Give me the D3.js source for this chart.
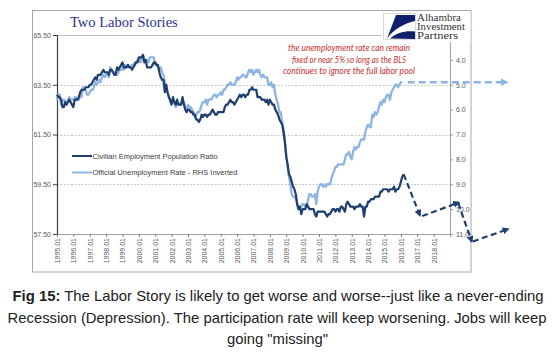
<!DOCTYPE html>
<html><head><meta charset="utf-8">
<script src="https://cdn.jsdelivr.net/npm/d3@7"></script>
<style>
html,body{margin:0;padding:0;background:#fff;}
svg{display:block;}
</style></head>
<body><svg id="c" width="556" height="356"></svg>
<script>
// ---- data ----
const years = [1995,1996,1997,1998,1999,2000,2001,2002,2003,2004,2005,2006,2007,2008,2009,2010,2011,2012,2013,2014,2015,2016];
const empRatio = [
 [63.1,63.0,63.0,62.9,62.6,62.6,62.8,62.7,62.8,62.9,62.8,62.7],
 [62.6,62.9,62.9,62.9,63.0,63.2,63.3,63.3,63.3,63.4,63.4,63.4],
 [63.5,63.5,63.6,63.7,63.8,63.7,63.9,63.9,63.9,64.0,64.1,64.0],
 [64.0,64.0,63.9,64.1,64.1,64.0,63.9,63.9,64.2,64.1,64.2,64.3],
 [64.4,64.2,64.2,64.2,64.3,64.2,64.2,64.1,64.2,64.3,64.4,64.4],
 [64.6,64.6,64.6,64.7,64.4,64.5,64.2,64.2,64.2,64.2,64.3,64.4],
 [64.4,64.3,64.3,64.0,63.8,63.7,63.7,63.2,63.5,63.2,63.0,62.9],
 [62.7,63.0,62.8,62.7,62.9,62.7,62.7,62.7,63.0,62.7,62.5,62.4],
 [62.5,62.5,62.4,62.4,62.3,62.3,62.1,62.1,62.0,62.1,62.3,62.2],
 [62.3,62.3,62.2,62.3,62.3,62.4,62.5,62.4,62.3,62.3,62.4,62.4],
 [62.4,62.4,62.4,62.6,62.7,62.7,62.8,62.9,62.8,62.8,62.7,62.8],
 [62.9,63.0,63.1,63.0,63.1,63.1,63.0,63.1,63.1,63.3,63.3,63.4],
 [63.3,63.3,63.3,63.0,63.0,63.0,62.9,62.9,62.9,62.8,62.9,62.7],
 [62.9,62.8,62.7,62.7,62.5,62.4,62.3,62.1,62.0,61.9,61.6,61.2],
 [60.6,60.3,59.9,59.8,59.6,59.4,59.3,59.1,58.7,58.5,58.6,58.3],
 [58.5,58.5,58.5,58.7,58.6,58.5,58.5,58.5,58.5,58.3,58.2,58.4],
 [58.4,58.4,58.4,58.4,58.4,58.3,58.2,58.3,58.3,58.4,58.5,58.5],
 [58.4,58.5,58.5,58.4,58.6,58.6,58.5,58.4,58.7,58.8,58.7,58.6],
 [58.6,58.6,58.5,58.6,58.6,58.6,58.7,58.6,58.6,58.2,58.6,58.6],
 [58.8,58.8,58.9,58.9,58.9,59.0,59.0,59.0,59.0,59.2,59.2,59.3],
 [59.3,59.3,59.3,59.2,59.3,59.3,59.3,59.4,59.2,59.3,59.3,59.4],
 [59.6,59.8,59.9]
];
const unempRate = [
 [5.6,5.4,5.4,5.8,5.6,5.6,5.7,5.7,5.6,5.5,5.6,5.6],
 [5.6,5.5,5.5,5.6,5.6,5.3,5.5,5.1,5.2,5.2,5.4,5.4],
 [5.3,5.2,5.2,5.1,4.9,5.0,4.9,4.8,4.9,4.7,4.6,4.7],
 [4.6,4.6,4.7,4.3,4.4,4.5,4.5,4.5,4.6,4.5,4.4,4.4],
 [4.3,4.4,4.2,4.3,4.2,4.3,4.3,4.2,4.2,4.1,4.1,4.0],
 [4.0,4.1,4.0,3.8,4.0,4.0,4.0,4.1,3.9,3.9,3.9,3.9],
 [4.2,4.2,4.3,4.4,4.3,4.5,4.6,4.9,5.0,5.3,5.5,5.7],
 [5.7,5.7,5.7,5.9,5.8,5.8,5.8,5.7,5.7,5.7,5.9,6.0],
 [5.8,5.9,5.9,6.0,6.1,6.3,6.2,6.1,6.1,6.0,5.8,5.7],
 [5.7,5.6,5.8,5.6,5.6,5.6,5.5,5.4,5.4,5.5,5.4,5.4],
 [5.3,5.4,5.2,5.2,5.1,5.0,5.0,4.9,5.0,5.0,5.0,4.9],
 [4.7,4.8,4.7,4.7,4.6,4.6,4.7,4.7,4.5,4.4,4.5,4.4],
 [4.6,4.5,4.4,4.5,4.4,4.6,4.7,4.6,4.7,4.7,4.7,5.0],
 [5.0,4.9,5.1,5.0,5.4,5.6,5.8,6.1,6.1,6.5,6.8,7.3],
 [7.8,8.3,8.7,9.0,9.4,9.5,9.5,9.6,9.8,10.0,9.9,9.9],
 [9.8,9.8,9.9,9.9,9.6,9.4,9.4,9.5,9.5,9.4,9.8,9.3],
 [9.1,9.0,9.0,9.1,9.0,9.1,9.0,9.0,9.0,8.8,8.6,8.5],
 [8.3,8.3,8.2,8.2,8.2,8.2,8.2,8.0,7.8,7.8,7.7,7.9],
 [8.0,7.7,7.5,7.6,7.5,7.5,7.3,7.2,7.2,7.2,6.9,6.7],
 [6.6,6.7,6.7,6.2,6.3,6.1,6.2,6.1,5.9,5.7,5.8,5.6],
 [5.7,5.5,5.4,5.4,5.6,5.3,5.2,5.1,5.0,5.0,5.1,5.0],
 [4.9,4.9]
];
// hand-drawn projection arrows (year, value)
const empProjection = [
 [[2016.17,59.9],[2017.17,58.24]],
 [[2017.3,58.22],[2019.55,58.77]],
 [[2019.5,58.75],[2020.33,57.19]],
 [[2020.4,57.2],[2022.56,57.7]]
];
const unempProjection = [[[2016.42,4.9],[2022.48,4.9]]];
const leftTicks = [57.5,59.5,61.5,63.5,65.5];
const rightTicks = [4,5,6,7,8,9,10,11];
const xTickYears = d3.range(1995,2019);
const xTickLabels = xTickYears.map(y => y + ".01");
const seriesNames = ["Civilian Employment Population Ratio","Official Unemployment Rate - RHS Inverted"];
const noteLines = ["the unemployment rate can remain","fixed or near 5% so long as the BLS","continues to ignore the full labor pool"];
const logoLines = ["Alhambra","Investment","Partners"];
const captionBold = "Fig 15:";
const captionLines = [" The Labor Story is likely to get worse and worse--just like a never-ending",
 "Recession (Depression). The participation rate will keep worsening. Jobs will keep",
 "going \"missing\""];

// ---- chart ----
const svg = d3.select("#c");
const L=57,R=450,T=35,B=234;
const x = d3.scaleLinear().domain([1995,2019]).range([L,R]);
const yL = d3.scaleLinear().domain([57.5,65.5]).range([B,T]);
const yR = d3.scaleLinear().domain([3,11]).range([T,B]);
const DARK="#1f3f6e", LIGHT="#8db4e2", GRID="#c8c8c8", LBL="#595959";

const flat = (arr) => { const out=[]; arr.forEach((row,i)=>row.forEach((v,m)=>out.push([years[i]+m/12,v]))); return out; };
const empData = flat(empRatio), unData = flat(unempRate);

// frame
svg.append("rect").attr("x",32.5).attr("y",10.5).attr("width",438.5).attr("height",261.5)
  .attr("fill","#fff").attr("stroke","#a6a6a6").attr("stroke-width",1);

// gridlines
svg.append("g").selectAll("line").data(leftTicks.filter(d=>d>57.5 && d<65.5)).join("line")
  .attr("x1",L).attr("x2",R).attr("y1",d=>Math.round(yL(d))+0.5).attr("y2",d=>Math.round(yL(d))+0.5)
  .attr("stroke",GRID).attr("stroke-dasharray","2,1.5");
svg.append("line").attr("x1",L).attr("x2",R).attr("y1",yL(65.5)+0.5).attr("y2",yL(65.5)+0.5)
  .attr("stroke","#bfbfbf").attr("stroke-width",1.2);

// axes
const axL = d3.axisLeft(yL).tickValues(leftTicks).tickFormat(d3.format(".2f")).tickSize(4).tickPadding(2);
const gL = svg.append("g").attr("transform",`translate(${L},0)`).call(axL);
gL.select(".domain").attr("stroke","#404040").attr("stroke-width",1.2);
gL.selectAll(".tick line").attr("stroke","#404040");
gL.selectAll("text").attr("fill",LBL).style("font","7px 'Liberation Sans',Arial,sans-serif");

const axR = d3.axisRight(yR).tickValues(rightTicks).tickFormat(d3.format(".1f")).tickSize(3).tickPadding(3);
const gR = svg.append("g").attr("transform",`translate(${R},0)`).call(axR);
gR.select(".domain").attr("stroke","#a0a0a0");
gR.selectAll(".tick line").attr("stroke","#a0a0a0");
gR.selectAll("text").attr("fill",LBL).style("font","7px 'Liberation Sans',Arial,sans-serif");

const axB = d3.axisBottom(x).tickValues(xTickYears).tickFormat((d,i)=>xTickLabels[i]).tickSize(3).tickPadding(2);
const gB = svg.append("g").attr("transform",`translate(0,${B})`).call(axB);
gB.select(".domain").attr("stroke","#a0a0a0");
gB.selectAll(".tick line").attr("stroke","#808080");
gB.selectAll("text").attr("fill",LBL).style("font","7px 'Liberation Sans',Arial,sans-serif")
  .attr("transform","rotate(-90)").attr("text-anchor","end").attr("x",-4).attr("y",0).attr("dy","0.35em");

// series lines
const lineL = d3.line().x(d=>x(d[0])).y(d=>yL(d[1]));
const lineR = d3.line().x(d=>x(d[0])).y(d=>yR(d[1]));
svg.append("path").datum(unData).attr("d",lineR).attr("fill","none").attr("stroke",LIGHT).attr("stroke-width",2.3).attr("stroke-linejoin","round");
svg.append("path").datum(empData).attr("d",lineL).attr("fill","none").attr("stroke",DARK).attr("stroke-width",2.2).attr("stroke-linejoin","round");

// arrow markers
const defs = svg.append("defs");
[["arrD",DARK],["arrL",LIGHT]].forEach(([id,c])=>{
  defs.append("marker").attr("id",id).attr("viewBox","0 0 10 10").attr("refX",8).attr("refY",5)
    .attr("markerWidth",3.2).attr("markerHeight",3.2).attr("orient","auto").attr("markerUnits","strokeWidth")
    .append("path").attr("d","M0,0 L10,5 L0,10 z").attr("fill",c);
});
svg.append("g").selectAll("path").data(empProjection).join("path").attr("d",lineL)
  .attr("fill","none").attr("stroke",DARK).attr("stroke-width",2.2).attr("stroke-dasharray","6,3.5")
  .attr("marker-end","url(#arrD)");
svg.append("g").selectAll("path").data(unempProjection).join("path").attr("d",lineR)
  .attr("fill","none").attr("stroke",LIGHT).attr("stroke-width",2.4).attr("stroke-dasharray","7,4")
  .attr("marker-end","url(#arrL)");

// legend
const leg = svg.append("g");
[[DARK,156],[LIGHT,172.5]].forEach(([c,yy],i)=>{
  leg.append("line").attr("x1",72).attr("x2",92).attr("y1",yy).attr("y2",yy).attr("stroke",c).attr("stroke-width",2);
  leg.append("text").attr("x",92.5).attr("y",yy+2.7).text(seriesNames[i])
    .attr("fill","#404040").style("font","7.5px 'Liberation Sans',Arial,sans-serif");
});

// title
svg.append("text").attr("x",70).attr("y",27).text("Two Labor Stories")
  .attr("fill","#2e3192").style("font","14.5px 'Liberation Serif','Times New Roman',serif");

// annotation
const noteWidths=[122,114,132];
svg.append("g").selectAll("text").data(noteLines).join("text")
  .attr("x",349).attr("y",(d,i)=>51+i*11.7).attr("text-anchor","middle")
  .attr("textLength",(d,i)=>noteWidths[i]).attr("lengthAdjust","spacingAndGlyphs")
  .attr("fill","#c8302e").style("font","italic 9px Lato,'Open Sans',sans-serif").text(d=>d);

// logo
const logo = svg.append("g");
logo.append("rect").attr("x",381).attr("y",11).attr("width",89.5).attr("height",31).attr("fill","#fff");
logo.append("rect").attr("x",383.5).attr("y",13.5).attr("width",32).attr("height",26).attr("fill","#fff").attr("stroke","#d8d8d8");
logo.append("path").attr("d","M396,15 L415,15 L415,21 C405,23 394,29 387,38.5 Z").attr("fill","#0f1f6e");
logo.append("path").attr("d","M390,38.5 C397,32 406,30.5 415,31.5 L415,39 Z").attr("fill","#0f1f6e");
const logoW=[44,48,41];
logoLines.forEach((t,i)=>{
  logo.append("text").attr("x",417).attr("y",20.5+i*9.4).text(t)
    .attr("textLength",logoW[i]).attr("lengthAdjust","spacingAndGlyphs")
    .attr("fill","#333").style("font","9.3px 'Liberation Serif','Times New Roman',serif");
});

// caption
const capFont = "14.5px 'Liberation Sans',Arial,sans-serif";
const c1 = svg.append("text").attr("x",278).attr("y",301).attr("text-anchor","middle").style("font",capFont).attr("fill","#222")
  .attr("textLength",531).attr("lengthAdjust","spacingAndGlyphs");
c1.append("tspan").attr("font-weight","bold").text(captionBold);
c1.append("tspan").text(captionLines[0]);
svg.append("text").attr("x",277).attr("y",323).attr("text-anchor","middle").style("font",capFont).attr("fill","#222")
  .attr("textLength",539).attr("lengthAdjust","spacingAndGlyphs").text(captionLines[1]);
svg.append("text").attr("x",277.5).attr("y",344).attr("text-anchor","middle").style("font",capFont).attr("fill","#222")
  .attr("textLength",101).attr("lengthAdjust","spacingAndGlyphs").text(captionLines[2]);
</script>
</body></html>
